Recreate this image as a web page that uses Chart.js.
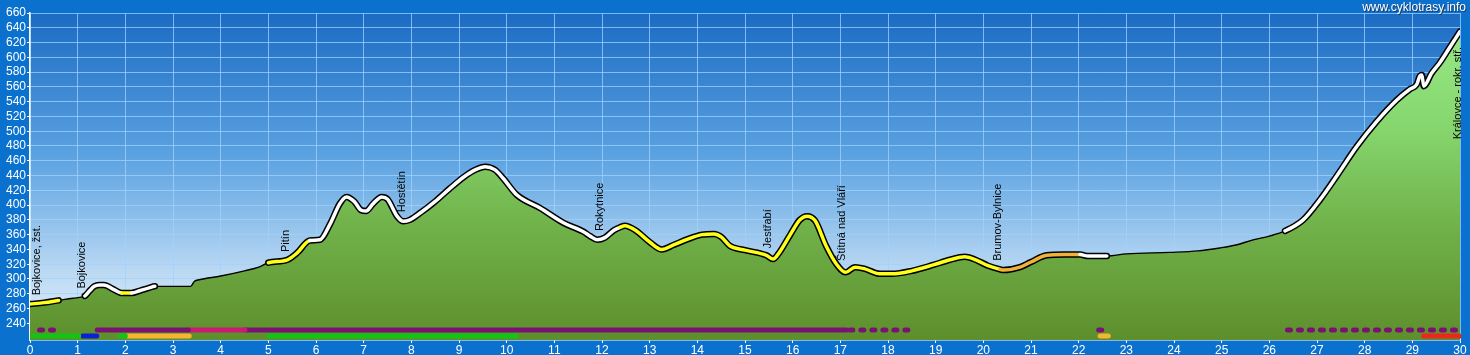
<!DOCTYPE html>
<html>
<head>
<meta charset="utf-8">
<script src="https://cdn.jsdelivr.net/npm/chart.js@4.4.1/dist/chart.umd.min.js"></script>
<style>
html,body{margin:0;padding:0;background:#0a71cf;}
#wrap{width:1470px;height:355px;}
</style>
</head>
<body>
<div id="wrap"><canvas id="c" width="1470" height="355"></canvas></div>
<script>
// ---- data ----
const km = [0.00,0.30,0.60,0.90,1.15,1.25,1.35,1.45,1.55,1.75,1.92,2.13,2.30,2.50,2.62,2.70,3.00,3.37,3.45,3.55,4.00,4.50,4.80,5.00,5.40,5.60,5.87,6.08,6.30,6.50,6.64,6.80,6.95,7.05,7.20,7.38,7.50,7.70,7.83,7.97,8.20,8.50,8.80,9.10,9.35,9.55,9.75,9.93,10.21,10.70,11.19,11.61,11.75,11.90,12.06,12.25,12.38,12.48,12.70,13.00,13.25,13.50,13.80,14.10,14.35,14.50,14.68,15.00,15.45,15.59,15.70,15.95,16.15,16.30,16.47,16.70,16.92,17.11,17.31,17.50,17.83,18.08,18.50,18.95,19.30,19.61,19.80,20.10,20.35,20.42,20.77,21.00,21.33,21.70,22.03,22.20,22.59,23.00,23.91,24.50,24.96,25.30,25.66,26.00,26.33,26.71,27.06,27.41,27.83,28.25,28.67,28.95,29.09,29.16,29.20,29.24,29.40,29.58,29.80,30.00];
const elevation = [266,268,271,274,277,284,290,292,292,286,281,281,284,288,290,290,290,290,297,299,304,311,316,322,326,335,352,353,375,402,411,405,393,392,402,411,408,385,378,380,390,405,422,438,448,452,448,436,414,396,376,364,358,353,356,366,370,372,366,350,340,346,354,360,361,357,345,339,332,327,334,360,380,385,379,345,320,309,316,314,307,307,311,319,326,330,327,318,313,312,316,323,332,333,333,331,331,334,336,338,342,346,353,358,365,380,407,439,479,513,542,557,563,575,576,561,578,593,615,635];

// road surface sections along the profile line
const surfaceFrom = [0.00,0.60,1.15,1.92,2.13,2.62,5.00,5.87,12.38,20.35,22.03,22.59,26.33];
const surfaceTo   = [0.60,1.15,1.92,2.13,2.62,5.00,5.87,12.38,20.35,22.03,22.59,26.33,30.00];
const surfaceKind = ['yellow','plain','white','yellow','white','plain','yellow','white','yellow','orange','white','plain','white'];

// place names
const placeNames = ['Bojkovice, žst.','Bojkovice','Pitín','Hostětín','Rokytnice','Jestřabí','Štítná nad Vláří','Brumov-Bylnice','Královce - rokr. stř.'];
const placeKm    = [0.15,1.08,5.37,7.80,11.96,15.49,17.03,20.31,29.96];

// route category strips (upper row)
const row1Level = 231;
const row1From = [0.20,1.41,3.32,4.51,17.20,22.42,26.38];
const row1To   = [0.55,3.32,4.51,17.13,18.55,22.50,29.95];
const row1Kind = ['purpleDots','purple','magenta','purple','purpleDots','purpleDots','purpleDots'];
// route category strips (lower row)
const row2Level = 222.7;
const row2From = [0.05,1.11,1.90,2.05,5.02,22.45,29.24];
const row2To   = [1.02,1.40,2.00,3.34,10.19,22.62,29.98];
const row2Kind = ['green','blue','green','orange','green','orange','red'];

const yTicks = [240,260,280,300,320,340,360,380,400,420,440,460,480,500,520,540,560,580,600,620,640,660];
const xTicks = [0,1,2,3,4,5,6,7,8,9,10,11,12,13,14,15,16,17,18,19,20,21,22,23,24,25,26,27,28,29,30];

// ---- styles ----
const lineColors = {white:'#ffffff', yellow:'#ffff1a', orange:'#f2b23a', plain:'rgba(0,0,0,0)'};
const stripColors = {purple:'#7b1273', purpleDots:'#7b1273', magenta:'#cc1a72', green:'#14c414', blue:'#0b1fd6', orange:'#f5b531', red:'#e8281e'};

const pts = km.map((k,i)=>({x:k, y:elevation[i]}));
function kindAt(x){
  for(let i=0;i<surfaceFrom.length;i++){ if(x>=surfaceFrom[i] && x<=surfaceTo[i]) return surfaceKind[i]; }
  return 'plain';
}
function segKind(ctx){ return kindAt((ctx.p0.parsed.x+ctx.p1.parsed.x)/2); }
function elevAt(k){
  for(let i=1;i<km.length;i++){ if(k<=km[i]){ const t=(k-km[i-1])/(km[i]-km[i-1]); return elevation[i-1]+t*(elevation[i]-elevation[i-1]); } }
  return elevation[elevation.length-1];
}

function stripSets(from,to,kind,level){
  return from.map((f,i)=>({
    data:[{x:f,y:level},{x:to[i],y:level}],
    borderColor: stripColors[kind[i]],
    borderWidth:5,
    borderCapStyle:'round',
    borderDash: kind[i]==='purpleDots' ? [3,8] : [],
    pointRadius:0, fill:false, order:2, clip:false
  }));
}

const datasets = [
  { // inner coloured line
    data: pts, order:0, pointRadius:0, fill:false, cubicInterpolationMode:'monotone',
    borderWidth:3.5, borderCapStyle:'round', borderJoinStyle:'round', borderColor:'#fff',
    segment:{ borderColor: c => lineColors[segKind(c)] }
  },
  { // black outline
    data: pts, order:1, pointRadius:0, fill:false, cubicInterpolationMode:'monotone',
    borderColor:'#000', borderCapStyle:'round', borderJoinStyle:'round', borderWidth:6.5,
    segment:{ borderWidth: c => segKind(c)==='plain' ? 1.4 : 6.5 }
  },
  ...stripSets(row1From,row1To,row1Kind,row1Level),
  ...stripSets(row2From,row2To,row2Kind,row2Level),
  { // terrain fill
    data: pts, order:3, pointRadius:0, cubicInterpolationMode:'monotone', borderWidth:0,
    fill:'start',
    backgroundColor: c => {
      const a = c.chart.chartArea; if(!a) return '#70b048';
      const g = c.chart.ctx.createLinearGradient(0,a.top,0,a.bottom);
      g.addColorStop(0,'#9aec8a'); g.addColorStop(0.35,'#86d66e'); g.addColorStop(0.65,'#71b24a'); g.addColorStop(1,'#5d8f2c');
      return g;
    }
  }
];

const sky = {
  id:'sky',
  beforeDraw(c){
    const {ctx, chartArea:a} = c;
    ctx.save();
    ctx.fillStyle='#0a71cf'; ctx.fillRect(0,0,c.width,c.height);
    const g = ctx.createLinearGradient(0,a.top,0,a.bottom);
    g.addColorStop(0,'#1b6bc3'); g.addColorStop(0.45,'#5ea4e2'); g.addColorStop(0.8,'#bddaf3'); g.addColorStop(1,'#e5f2fb');
    ctx.fillStyle=g; ctx.fillRect(a.left,a.top,a.right-a.left,a.bottom-a.top);
    ctx.restore();
  }
};

const labels = {
  id:'labels',
  afterDatasetsDraw(c){
    const {ctx, chartArea:a} = c; const xs=c.scales.x, ys=c.scales.y;
    ctx.save();
    ctx.font='11px "Liberation Sans", Arial, sans-serif';
    ctx.fillStyle='#000';
    placeNames.forEach((n,i)=>{
      const x = xs.getPixelForValue(placeKm[i]);
      let yb = ys.getPixelForValue(elevAt(placeKm[i])) - 8;
      const w = ctx.measureText(n).width;
      if (yb - w < a.top + 30) yb = a.top + 34 + w;
      ctx.save(); ctx.translate(x,yb); ctx.rotate(-Math.PI/2);
      ctx.textAlign='left'; ctx.textBaseline='middle';
      ctx.fillText(n,0,0); ctx.restore();
    });
    ctx.restore();
  },
  afterDraw(c){
    const ctx=c.ctx; ctx.save();
    ctx.font='12px "Liberation Sans", Arial, sans-serif';
    ctx.textAlign='right'; ctx.textBaseline='alphabetic';
    ctx.fillStyle='#203a5a'; ctx.fillText('www.cyklotrasy.info',1467,12);
    ctx.fillStyle='#ffffff'; ctx.fillText('www.cyklotrasy.info',1466,11);
    ctx.restore();
  }
};

new Chart(document.getElementById('c'), {
  type:'line',
  data:{ datasets },
  plugins:[sky, labels],
  options:{
    responsive:false, animation:false, devicePixelRatio:1,
    layout:{ padding:{ top:13, right:10, left:0, bottom:0 } },
    plugins:{ legend:{display:false}, tooltip:{enabled:false} },
    scales:{
      x:{
        type:'linear', min:0, max:30,
        afterBuildTicks: s => { s.ticks = xTicks.map(v=>({value:v})); },
        afterFit: s => { s.height = 15; },
        ticks:{ color:'#fff', font:{size:12, family:'"Liberation Sans", Arial'}, padding:0, maxRotation:0, autoSkip:false },
        grid:{ color:'rgba(160,210,255,0.75)', lineWidth:1, tickLength:3, tickColor:'#fff' },
        border:{ color:'#fff', width:1.5 }
      },
      y:{
        type:'linear', min:217.4, max:660,
        afterBuildTicks: s => { s.ticks = yTicks.map(v=>({value:v})); },
        afterFit: s => { s.width = 30; },
        ticks:{ color:'#fff', font:{size:12, family:'"Liberation Sans", Arial'}, padding:1, autoSkip:false },
        grid:{ color:'rgba(160,210,255,0.75)', lineWidth:1, tickLength:3, tickColor:'#fff' },
        border:{ color:'#fff', width:1.5 }
      }
    }
  }
});
</script>
</body>
</html>
